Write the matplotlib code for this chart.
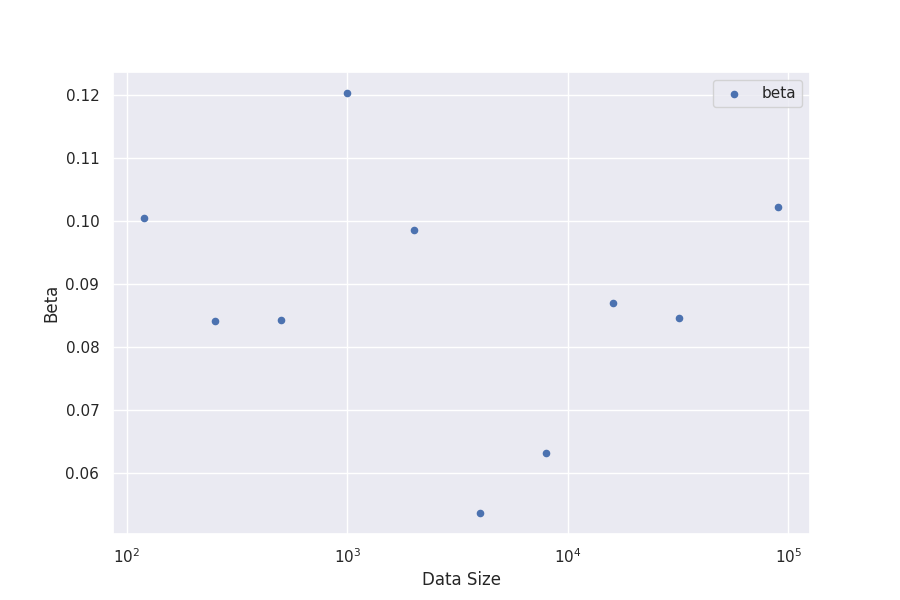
import matplotlib
matplotlib.use("Agg")
import matplotlib.pyplot as plt
import seaborn as sns

sns.set_theme()

data_size = [120, 250, 500, 1000, 2000, 4000, 8000, 16000, 32000, 90000]
beta = [0.1005, 0.0841, 0.0843, 0.1203, 0.0986, 0.0537, 0.0632, 0.0870, 0.0846, 0.1022]

fig, ax = plt.subplots(figsize=(9, 6), dpi=100)
ax.scatter(data_size, beta, s=20, label="beta")
ax.set_xscale("log")
ax.set_xlabel("Data Size")
ax.set_ylabel("Beta")
ax.legend(loc="upper right")
fig.savefig("out.png")
